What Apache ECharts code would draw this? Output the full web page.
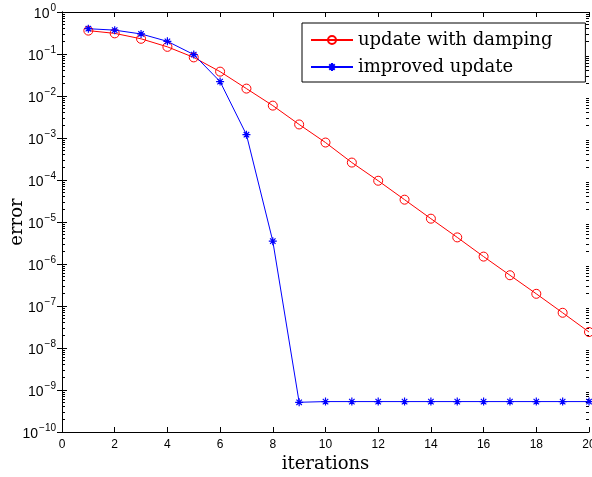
<!DOCTYPE html>
<html>
<head>
<meta charset="utf-8">
<script src="https://cdn.jsdelivr.net/npm/echarts@6/dist/echarts.min.js"></script>
<style>
html,body{margin:0;padding:0;background:#fff;}
#chart{width:592px;height:477px;}
</style>
</head>
<body>
<div id="chart"></div>
<script>
var iterations = [1,2,3,4,5,6,7,8,9,10,11,12,13,14,15,16,17,18,19,20];
var dampingErr = [0.36,0.31,0.23,0.148,0.083,0.038,0.015,0.0059,0.0021,7.8e-4,2.6e-4,9.6e-5,3.4e-5,1.2e-5,4.3e-6,1.5e-6,5.4e-7,1.95e-7,6.9e-8,2.4e-8];
var improvedErr = [0.40,0.37,0.30,0.20,0.097,0.022,0.0012,3.5e-6,5.1e-10,5.3e-10,5.3e-10,5.3e-10,5.3e-10,5.3e-10,5.3e-10,5.3e-10,5.3e-10,5.3e-10,5.3e-10,5.3e-10];
var seriesNames = ['update with damping','improved update'];
var xTicks = {min:0, max:20, step:2};
var yRange = {min:1e-10, max:1};

var minorTicks = [];
for (var e = -10; e < 0; e++) {
  for (var k = 2; k <= 9; k++) minorTicks.push(k * Math.pow(10, e));
}

var chart = echarts.init(document.getElementById('chart'), null, {renderer:'canvas'});
var axisLineStyle = {color:'#000', width:1};
var star = 'path://M5,0L5,10M0,5L10,5M1.6,1.6L8.4,8.4M1.6,8.4L8.4,1.6';

function zip(xs, ys){ return xs.map(function(x,i){ return [x, ys[i]]; }); }

var option = {
  animation:false,
  backgroundColor:'#fff',
  grid:{left:62, right:3, top:12, bottom:45, containLabel:false, outerBoundsMode:'none'},
  legend:{
    left:302, top:23,
    orient:'vertical',
    data:seriesNames,
    backgroundColor:'#fff',
    borderColor:'#000', borderWidth:1, borderRadius:0,
    padding:[8,33,6,8],
    itemWidth:42, itemHeight:10, itemGap:9,
    textStyle:{fontFamily:'DejaVu Serif', fontSize:18, color:'#000', lineHeight:18}
  },
  xAxis:[{
    type:'value', min:xTicks.min, max:xTicks.max, interval:xTicks.step,
    position:'bottom',
    name:'iterations', nameLocation:'middle', nameGap:23, nameMoveOverlap:false,
    nameTextStyle:{fontFamily:'DejaVu Serif', fontSize:18, color:'#000'},
    axisLine:{show:true, lineStyle:axisLineStyle},
    axisTick:{show:true, inside:true, length:5, lineStyle:axisLineStyle},
    axisLabel:{fontFamily:'Liberation Sans', fontSize:12, color:'#000', margin:7},
    splitLine:{show:false}
  },{
    type:'value', min:xTicks.min, max:xTicks.max, interval:xTicks.step,
    position:'top',
    axisLine:{show:true, lineStyle:axisLineStyle},
    axisTick:{show:true, inside:true, length:5, lineStyle:axisLineStyle},
    axisLabel:{show:false},
    splitLine:{show:false}
  }],
  yAxis:[{
    type:'log', logBase:10, min:yRange.min, max:yRange.max, interval:1,
    position:'left',
    name:'error', nameLocation:'middle', nameGap:36, nameRotate:90, nameMoveOverlap:false,
    nameTextStyle:{fontFamily:'DejaVu Serif', fontSize:18, color:'#000'},
    axisLine:{show:true, lineStyle:axisLineStyle},
    axisTick:{show:true, inside:true, length:5, lineStyle:axisLineStyle},
    axisLabel:{
      margin:6,
      formatter:function(v){
        var ex = Math.round(Math.log10(v));
        var s = ex < 0 ? '\u2212' + (-ex) : String(ex);
        return '{b|10}{s|' + s + '}';
      },
      rich:{
        b:{fontFamily:'Liberation Sans', fontSize:14, color:'#000', lineHeight:18, verticalAlign:'bottom'},
        s:{fontFamily:'Liberation Sans', fontSize:10, color:'#000', lineHeight:18, verticalAlign:'top', padding:[0,0,0,1]}
      }
    },
    splitLine:{show:false}
  },{
    type:'log', logBase:10, min:yRange.min, max:yRange.max, interval:1,
    position:'right',
    axisLine:{show:true, lineStyle:axisLineStyle},
    axisTick:{show:true, inside:true, length:5, lineStyle:axisLineStyle},
    axisLabel:{show:false},
    splitLine:{show:false}
  },{
    type:'log', logBase:10, min:yRange.min, max:yRange.max,
    position:'left',
    axisLine:{show:false},
    axisTick:{show:true, inside:true, length:3, lineStyle:axisLineStyle, customValues:minorTicks},
    axisLabel:{show:false},
    splitLine:{show:false}
  },{
    type:'log', logBase:10, min:yRange.min, max:yRange.max,
    position:'right',
    axisLine:{show:false},
    axisTick:{show:true, inside:true, length:3, lineStyle:axisLineStyle, customValues:minorTicks},
    axisLabel:{show:false},
    splitLine:{show:false}
  }],
  series:[{
    name:seriesNames[0], type:'line',
    data:zip(iterations, dampingErr),
    symbol:'circle', symbolSize:9,
    lineStyle:{color:'#ff0000', width:1},
    itemStyle:{color:'rgba(255,255,255,0)', borderColor:'#ff0000', borderWidth:1},
    emphasis:{disabled:true}
  },{
    name:seriesNames[1], type:'line',
    data:zip(iterations, improvedErr),
    symbol:star, symbolSize:8,
    lineStyle:{color:'#0000ff', width:1},
    itemStyle:{color:'#0000ff', borderColor:'#0000ff', borderWidth:1.2},
    emphasis:{disabled:true}
  }]
};
chart.setOption(option);
</script>
</body>
</html>
